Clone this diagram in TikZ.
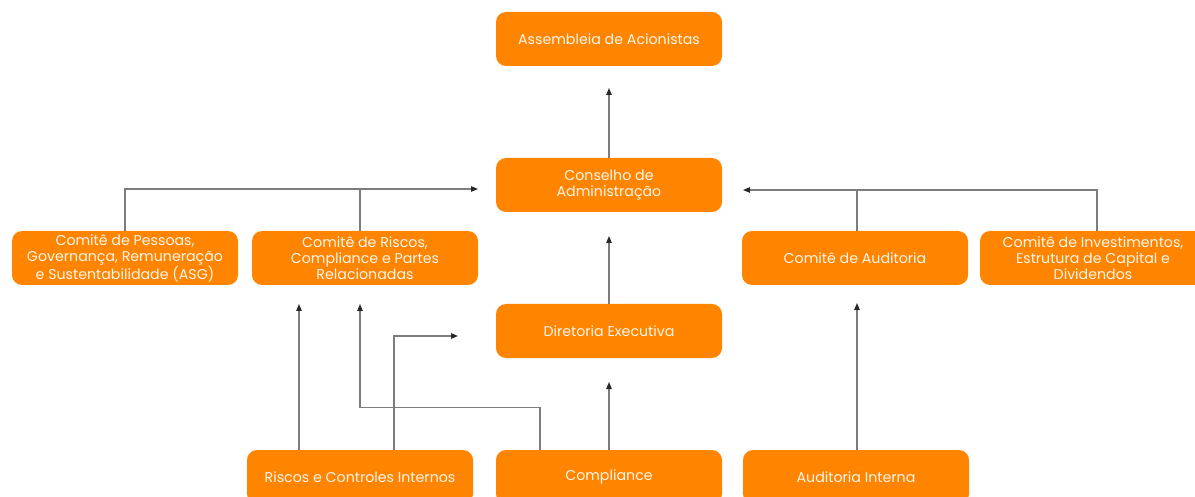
\documentclass[tikz,border=0pt]{standalone}
\usepackage{fontspec}
\setmainfont{Poppins}
\usetikzlibrary{arrows.meta,positioning}
\definecolor{orgc}{RGB}{255,132,0}
\definecolor{linec}{RGB}{125,125,125}
\definecolor{tipc}{RGB}{40,40,40}
\definecolor{txtc}{RGB}{255,246,236}
\begin{document}
\begin{tikzpicture}[x=1pt,y=-1pt,
  box/.style={rectangle, rounded corners=10pt, fill=orgc, text=txtc,
    minimum width=226pt, minimum height=54pt, align=center, inner sep=0pt,
    font=\fontsize{14.2}{16}\selectfont},
  conn/.style={draw=linec, line width=1.1pt},
  arr/.style={conn, -{Triangle[length=7pt,width=5.5pt,color=tipc]}}]
\useasboundingbox (0,0) rectangle (1195,497);
\node[box] (ass) at (609,39) {Assembleia de Acionistas};
\node[box] (con) at (609,185) {Conselho de\\Administração};
\node[box] (dir) at (609,331) {Diretoria Executiva};
\node[box] (comp) at (609,477) {Compliance};
\node[box] (ric) at (360,477) {Riscos e Controles Internos};
\node[box] (aud) at (856,477) {Auditoria Interna};
\node[box] (pes) at (125,258) {Comitê de Pessoas,\\Governança, Remuneração\\e Sustentabilidade (ASG)};
\node[box] (cri) at (365,258) {Comitê de Riscos,\\Compliance e Partes\\Relacionadas};
\node[box] (cau) at (855,258) {Comitê de Auditoria};
\node[box] (cin) at (1093,258) {Comitê de Investimentos,\\Estrutura de Capital e\\Dividendos};
% free arrow ends
\coordinate (tAss) at (609,88);
\coordinate (tCon) at (609,236);
\coordinate (tDir) at (609,382);
\coordinate (tLeft) at (478,189);
\coordinate (tRight) at (743,190);
\coordinate (tCri1) at (299,304);
\coordinate (tCri2) at (360,304);
\coordinate (tDirL) at (458,336);
\coordinate (tCau) at (857,303);
% connectors
\draw[arr] (con.north) -- (tAss);
\draw[arr] (dir.north) -- (tCon);
\draw[arr] (comp.north) -- (tDir);
\draw[arr] (pes.north) |- (tLeft);
\draw[conn] ([xshift=-5pt]cri.north) -- ([xshift=-5pt]cri.north |- tLeft);
\draw[arr] ([xshift=242pt]cau.north) |- (tRight);
\draw[conn] ([xshift=2pt]cau.north) -- ([xshift=2pt]cau.north |- tRight);
\draw[arr] ([xshift=-61pt]ric.north) -- (tCri1);
\draw[arr] ([xshift=34pt]ric.north) |- (tDirL);
\draw[arr] ([xshift=-69pt]comp.north) -- ++(0,-42) -| (tCri2);
\draw[arr] ([xshift=1pt]aud.north) -- (tCau);
\end{tikzpicture}
\end{document}
